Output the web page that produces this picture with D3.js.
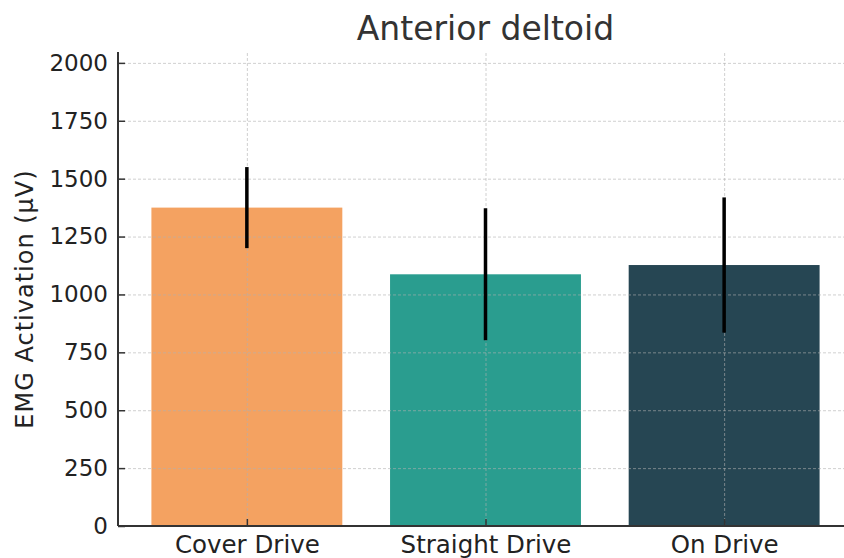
<!DOCTYPE html>
<html>
<head>
<meta charset="utf-8">
<script src="https://cdn.jsdelivr.net/npm/d3@7"></script>
<style>
  body { margin: 0; background: #fff; }
  svg { display: block; font-family: "DejaVu Sans", sans-serif; }
</style>
</head>
<body>
<svg id="chart"></svg>
<script>
var width = 844, height = 558;

// data
var categories = ["Cover Drive", "Straight Drive", "On Drive"];
var means = [1375, 1087, 1127];
var errors = [175, 285, 292];
var yTicks = [0, 250, 500, 750, 1000, 1250, 1500, 1750, 2000];
var barColors = ["#f4a261", "#2a9d8f", "#264653"];

var plotLeft = 118, plotRight = 853, plotTop = 52, plotBottom = 526;

var svg = d3.select('#chart')
  .attr('width', width)
  .attr('height', height);

// matplotlib style x limits: -0.54 .. 2.54
var x = d3.scaleLinear()
  .domain([-0.54, categories.length - 1 + 0.54])
  .range([plotLeft, plotRight]);

var y = d3.scaleLinear()
  .domain([0, 2047])
  .range([plotBottom, plotTop]);

var barW = x(0.8) - x(0);

// bars
svg.selectAll('rect.bar')
  .data(categories)
  .enter()
  .append('rect')
  .attr('class', 'bar')
  .attr('x', function(d, i) { return x(i) - barW / 2; })
  .attr('y', function(d, i) { return y(means[i]); })
  .attr('width', barW)
  .attr('height', function(d, i) { return y(0) - y(means[i]); })
  .attr('fill', function(d, i) { return barColors[i]; });

// grid on top of bars
function styleGrid(g) {
  g.select('.domain').remove();
  g.selectAll('line')
    .attr('stroke', '#b0b0b0')
    .attr('stroke-opacity', 0.6)
    .attr('stroke-dasharray', '3,2');
}

svg.append('g')
  .attr('transform', 'translate(' + plotLeft + ',0)')
  .call(d3.axisLeft(y).tickValues(yTicks).tickSize(-(width - plotLeft)).tickFormat(''))
  .call(styleGrid);

svg.append('g')
  .attr('transform', 'translate(0,' + plotBottom + ')')
  .call(d3.axisBottom(x).tickValues(d3.range(categories.length)).tickSize(-(plotBottom - plotTop)).tickFormat(''))
  .call(styleGrid);

// error bars
svg.selectAll('line.err')
  .data(categories)
  .enter()
  .append('line')
  .attr('class', 'err')
  .attr('x1', function(d, i) { return x(i); })
  .attr('x2', function(d, i) { return x(i); })
  .attr('y1', function(d, i) { return y(means[i] - errors[i]); })
  .attr('y2', function(d, i) { return y(means[i] + errors[i]); })
  .attr('stroke', '#000')
  .attr('stroke-width', 3.5);

// y axis
var yAxis = svg.append('g')
  .attr('transform', 'translate(' + plotLeft + ',0)')
  .call(d3.axisLeft(y).tickValues(yTicks).tickFormat(d3.format('d')).tickSize(0).tickPadding(10));
yAxis.select('.domain').remove();
yAxis.selectAll('text').attr('font-size', 23).attr('fill', '#222').attr('font-family', '"DejaVu Sans", sans-serif');
yAxis.selectAll('.tick').append('line').attr('x2', 7).attr('stroke', '#333').attr('stroke-width', 1.5);

// x axis
var xAxis = svg.append('g')
  .attr('transform', 'translate(0,' + plotBottom + ')')
  .call(d3.axisBottom(x).tickValues(d3.range(categories.length))
    .tickFormat(function(i) { return categories[i]; }).tickSize(0).tickPadding(10));
xAxis.select('.domain').remove();
xAxis.selectAll('text').attr('font-size', 24.5).attr('fill', '#222').attr('font-family', '"DejaVu Sans", sans-serif');
xAxis.selectAll('.tick').append('line').attr('y2', -7).attr('stroke', '#333').attr('stroke-width', 1.5);

// spines
svg.append('line')
  .attr('x1', plotLeft).attr('x2', plotLeft)
  .attr('y1', plotTop).attr('y2', plotBottom)
  .attr('stroke', '#333').attr('stroke-width', 2);
svg.append('line')
  .attr('x1', plotLeft).attr('x2', width)
  .attr('y1', plotBottom).attr('y2', plotBottom)
  .attr('stroke', '#333').attr('stroke-width', 2);

// title
svg.append('text')
  .attr('x', (plotLeft + plotRight) / 2)
  .attr('y', 40)
  .attr('text-anchor', 'middle')
  .attr('font-size', 33)
  .attr('fill', '#333')
  .text('Anterior deltoid');

// y label
svg.append('text')
  .attr('transform', 'translate(33,299) rotate(-90)')
  .attr('text-anchor', 'middle')
  .attr('font-size', 24)
  .attr('letter-spacing', 1)
  .attr('fill', '#222')
  .text('EMG Activation (μV)');
</script>
</body>
</html>
